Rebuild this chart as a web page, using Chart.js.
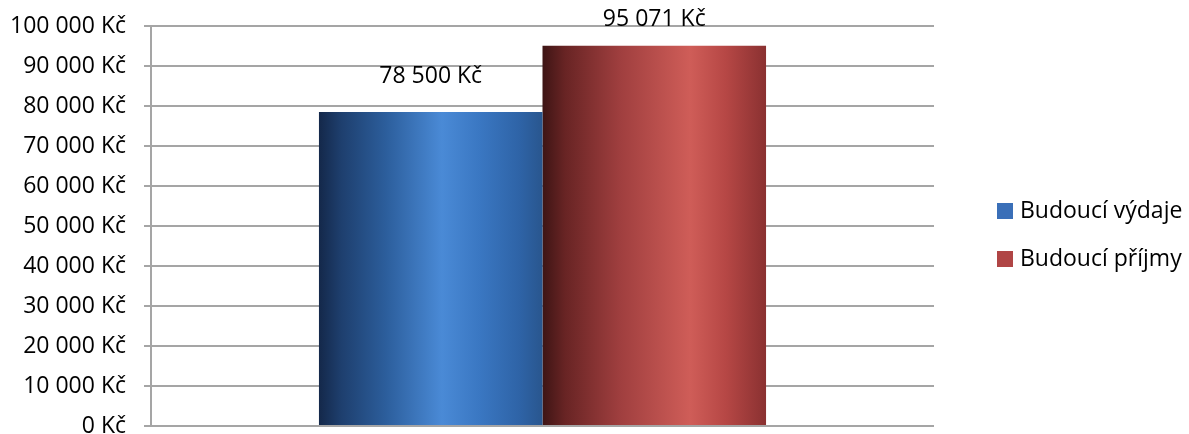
<!DOCTYPE html>
<html>
<head>
<meta charset="utf-8">
<script src="https://cdn.jsdelivr.net/npm/chart.js@4"></script>
<style>
    html, body { margin: 0; padding: 0; background: #fff; }
    #wrap { width: 1189px; height: 434px; }
</style>
</head>
<body>
<div id="wrap"><canvas id="budgetChart" width="1189" height="434"></canvas></div>
<script>
// Budoucí výdaje / příjmy
const categories = ['Celkem'];
const seriesNames = ['Budoucí výdaje', 'Budoucí příjmy'];
const expenses = [78500];
const incomes = [95071];
const yTicks = [0, 10000, 20000, 30000, 40000, 50000, 60000, 70000, 80000, 90000, 100000];

const FONT = '"Open Sans", "DejaVu Sans", sans-serif';
const CAT_PCT = 0.571;

// color stops across the width of each bar
const gradientStops = [
    [[0, '#14284a'], [0.1, '#1e3f6e'], [0.3, '#2c5e9c'], [0.55, '#4a8ad6'], [0.72, '#3a77c2'], [0.9, '#2e63a6'], [1, '#29568e']],
    [[0, '#3e1515'], [0.1, '#682424'], [0.35, '#a03f3f'], [0.66, '#cf5d58'], [0.82, '#b64745'], [1, '#8a3131']]
];
const legendColors = ['#3a6fb8', '#b04545'];

function fmtKc(v) {
    return String(v).replace(/\B(?=(\d{3})+(?!\d))/g, ' ') + ' Kč';
}

function barGradient(context) {
    const chart = context.chart;
    const area = chart.chartArea;
    const i = context.datasetIndex;
    if (!area) return legendColors[i];
    const groupW = area.width / categories.length * CAT_PCT;
    const barW = groupW / 2;
    const center = chart.scales.x.getPixelForValue(context.dataIndex);
    const left = center - groupW / 2 + i * barW;
    const g = chart.ctx.createLinearGradient(left, 0, left + barW, 0);
    gradientStops[i].forEach(s => g.addColorStop(s[0], s[1]));
    return g;
}

// value labels above the bars
const valueLabels = {
    id: 'valueLabels',
    afterDatasetsDraw(chart) {
        const ctx = chart.ctx;
        ctx.save();
        ctx.font = '23px ' + FONT;
        ctx.fillStyle = '#000';
        ctx.textAlign = 'center';
        ctx.textBaseline = 'middle';
        chart.data.datasets.forEach((ds, di) => {
            chart.getDatasetMeta(di).data.forEach((bar, idx) => {
                const y = Math.max(bar.y - 36, 19);
                ctx.fillText(fmtKc(ds.data[idx]), bar.x, y);
            });
        });
        ctx.restore();
    }
};

// legend on the right side
const sideLegend = {
    id: 'sideLegend',
    afterDraw(chart) {
        const ctx = chart.ctx;
        ctx.save();
        ctx.font = '23px ' + FONT;
        ctx.textBaseline = 'middle';
        ctx.textAlign = 'left';
        chart.data.datasets.forEach((ds, i) => {
            const y = 211 + i * 48;
            ctx.fillStyle = legendColors[i];
            ctx.fillRect(997, y - 8, 16, 16);
            ctx.fillStyle = '#000';
            ctx.fillText(ds.label, 1020, y);
        });
        ctx.restore();
    }
};

const ctx = document.getElementById('budgetChart').getContext('2d');
const budgetChart = new Chart(ctx, {
    type: 'bar',
    data: {
        labels: categories,
        datasets: [
            { label: seriesNames[0], data: expenses, backgroundColor: barGradient },
            { label: seriesNames[1], data: incomes, backgroundColor: barGradient }
        ]
    },
    options: {
        responsive: false,
        animation: false,
        layout: { padding: { top: 26, right: 255, bottom: 8, left: 0 } },
        datasets: { bar: { categoryPercentage: CAT_PCT, barPercentage: 1 } },
        plugins: {
            legend: { display: false },
            tooltip: { enabled: false }
        },
        scales: {
            x: { display: false },
            y: {
                min: 0,
                max: 100000,
                afterFit(scale) {
                    scale.width = 151;
                    scale.paddingTop = 0;
                    scale.paddingBottom = 0;
                },
                afterBuildTicks(scale) { scale.ticks = yTicks.map(v => ({ value: v })); },
                border: { color: '#a5a5a5', width: 2 },
                grid: { color: '#a5a5a5', lineWidth: 2, tickLength: 7 },
                ticks: {
                    padding: 18,
                    color: '#000',
                    font: { family: FONT, size: 23 },
                    callback: v => fmtKc(v)
                }
            }
        }
    },
    plugins: [valueLabels, sideLegend]
});
</script>
</body>
</html>
